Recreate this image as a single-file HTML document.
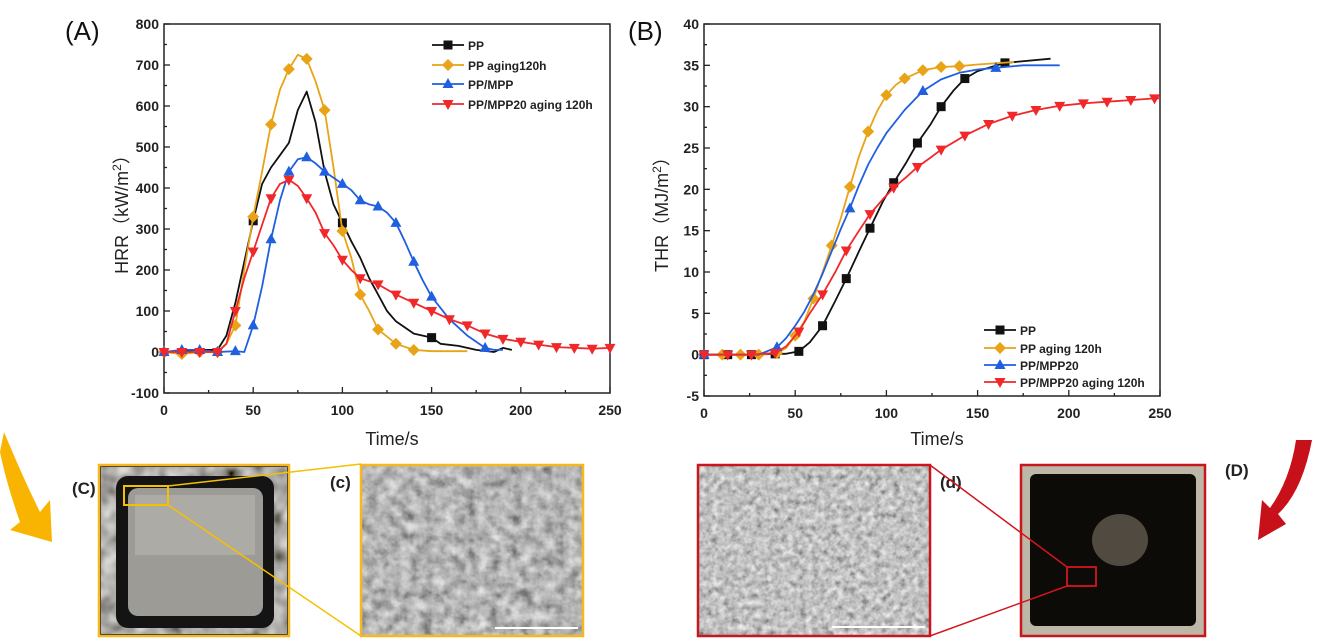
<!DOCTYPE html>
<html><head><meta charset="utf-8"><style>
html,body{margin:0;padding:0;background:#fff;}
svg{display:block;font-family:"Liberation Sans","Noto Sans CJK SC",sans-serif;}
.t{font-size:14px;font-weight:bold;fill:#222;}
</style></head><body>
<svg id="s" width="1319" height="640" viewBox="0 0 1319 640" xmlns="http://www.w3.org/2000/svg">
<defs>
<filter id="sem" x="0" y="0" width="100%" height="100%">
<feTurbulence type="fractalNoise" baseFrequency="0.09" numOctaves="3" seed="3"/>
<feColorMatrix type="matrix" values="0.45 0.45 0.45 0 -0.22  0.45 0.45 0.45 0 -0.22  0.45 0.45 0.45 0 -0.22  0 0 0 0 1"/>
</filter>
<filter id="sem2" x="0" y="0" width="100%" height="100%">
<feTurbulence type="fractalNoise" baseFrequency="0.16" numOctaves="3" seed="7"/>
<feColorMatrix type="matrix" values="0.5 0.5 0.5 0 -0.22  0.5 0.5 0.5 0 -0.22  0.5 0.5 0.5 0 -0.22  0 0 0 0 1"/>
</filter>
<filter id="foil" x="0" y="0" width="100%" height="100%">
<feTurbulence type="fractalNoise" baseFrequency="0.06" numOctaves="2" seed="2"/>
<feColorMatrix type="matrix" values="0.55 0.55 0.55 0 -0.4  0.55 0.55 0.55 0 -0.41  0.55 0.55 0.55 0 -0.43  0 0 0 0 1"/>
</filter>
</defs>
<g id="g"></g>

<text x="72" y="494" font-size="17" font-weight="bold" fill="#222">(C)</text>
<text x="330" y="488" font-size="17" font-weight="bold" fill="#222">(c)</text>
<text x="940" y="488" font-size="17" font-weight="bold" fill="#222">(d)</text>
<text x="1225" y="476" font-size="17" font-weight="bold" fill="#222">(D)</text>
<path d="M4,432 Q24,480 40,512 L50,500 L52,542 L10,530 L20,522 Q6,482 0,452 Z" fill="#f8b400"/>
<path d="M1312,440 Q1302,492 1278,514 L1286,524 L1258,540 L1262,500 L1270,508 Q1290,480 1296,440 Z" fill="#c8101a"/>

<rect x="99" y="465" width="190" height="171" fill="#222"/>
<rect x="101" y="467" width="186" height="167" filter="url(#foil)"/>
<rect x="116" y="476" width="158" height="152" rx="12" fill="#141414"/>
<rect x="128" y="488" width="135" height="128" rx="10" fill="#9d9b96"/>
<rect x="135" y="495" width="120" height="60" fill="#b8b6b1" opacity="0.6"/>
<rect x="99" y="465" width="190" height="171" fill="none" stroke="#f5b820" stroke-width="2.5"/>
<rect x="124" y="486" width="44" height="19" fill="none" stroke="#f5c000" stroke-width="2"/>
<line x1="168" y1="486" x2="361" y2="464" stroke="#f5c000" stroke-width="1.5"/>
<line x1="168" y1="505" x2="361" y2="636" stroke="#f5c000" stroke-width="1.5"/>
<rect x="361" y="465" width="222" height="171" filter="url(#sem)"/>
<rect x="361" y="465" width="222" height="171" fill="none" stroke="#f5b820" stroke-width="2.5"/>
<line x1="495" y1="628" x2="578" y2="628" stroke="#fff" stroke-width="2"/>

<rect x="698" y="465" width="232" height="171" filter="url(#sem2)"/>
<rect x="698" y="465" width="232" height="171" fill="none" stroke="#c8161d" stroke-width="2.5"/>
<line x1="832" y1="627" x2="925" y2="627" stroke="#fff" stroke-width="2"/>
<rect x="1021" y="465" width="184" height="171" fill="#bdb7a8"/>
<rect x="1030" y="474" width="166" height="152" rx="6" fill="#0d0b08"/>
<ellipse cx="1120" cy="540" rx="28" ry="26" fill="#6d6558" opacity="0.7"/>
<rect x="1021" y="465" width="184" height="171" fill="none" stroke="#c8161d" stroke-width="2.5"/>
<rect x="1067" y="567" width="29" height="19" fill="none" stroke="#d4141c" stroke-width="1.8"/>
<line x1="1067" y1="567" x2="930" y2="465" stroke="#d4141c" stroke-width="1.5"/>
<line x1="1067" y1="586" x2="930" y2="636" stroke="#d4141c" stroke-width="1.5"/>
</svg>
<script>
const NS="http://www.w3.org/2000/svg",G=document.getElementById('g');
function el(t,a,txt){const e=document.createElementNS(NS,t);for(const k in a)e.setAttribute(k,a[k]);if(txt!==undefined)e.textContent=txt;G.appendChild(e);return e;}
function marker(type,x,y,c){
 if(type=='s')el('rect',{x:x-4.5,y:y-4.5,width:9,height:9,fill:c});
 else if(type=='d')el('polygon',{points:`${x},${y-6} ${x+6},${y} ${x},${y+6} ${x-6},${y}`,fill:c});
 else if(type=='u')el('polygon',{points:`${x},${y-6} ${x+5.5},${y+4} ${x-5.5},${y+4}`,fill:c});
 else el('polygon',{points:`${x},${y+6} ${x+5.5},${y-4} ${x-5.5},${y-4}`,fill:c});
}
function panel(P){
 const X=v=>P.x0+(v-0)/250*(P.x1-P.x0), Y=v=>P.yT+(P.ymax-v)/(P.ymax-P.ymin)*(P.yB-P.yT);
 el('rect',{x:P.x0,y:P.yT,width:P.x1-P.x0,height:P.yB-P.yT,fill:'none',stroke:'#222','stroke-width':1.5});
 for(let v=0;v<=250;v+=25){const x=X(v);el('line',{x1:x,y1:P.yB,x2:x,y2:P.yB-(v%50?3:6),stroke:'#222','stroke-width':1.3});
  if(v%50==0)el('text',{x:x,y:P.yB+22,'text-anchor':'middle',class:'t'},v);}
 for(let v=P.ymin;v<=P.ymax;v+=P.st/2){const y=Y(v);const maj=Math.abs((v-P.ymin)%P.st)<1e-6;el('line',{x1:P.x0,y1:y,x2:P.x0+(maj?6:3),y2:y,stroke:'#222','stroke-width':1.3});
  if(maj)el('text',{x:P.x0-5,y:y+5,'text-anchor':'end',class:'t'},v);}
 el('text',{x:P.lbX,y:40,'font-size':26,fill:'#111'},P.lab);
 el('text',{x:(P.x0+P.x1)/2+5,y:445,'text-anchor':'middle','font-size':18,fill:'#222'},'Time/s');
 const yl=el('text',{transform:`translate(${P.ylx},210) rotate(-90)`,'text-anchor':'middle','font-size':18,fill:'#222'});
 yl.innerHTML=P.yl;
 P.series.forEach(s=>{
  const pts=s.d.map(p=>X(p[0]).toFixed(1)+','+Y(p[1]).toFixed(1)).join(' ');
  el('polyline',{points:pts,fill:'none',stroke:s.c,'stroke-width':1.8,'stroke-linejoin':'round'});
  s.m.forEach(t=>{let y;for(let i=0;i<s.d.length-1;i++){if(t>=s.d[i][0]&&t<=s.d[i+1][0]){const f=(t-s.d[i][0])/(s.d[i+1][0]-s.d[i][0]||1);y=s.d[i][1]+f*(s.d[i+1][1]-s.d[i][1]);break;}}
   if(y!==undefined)marker(s.t,X(t),Y(y),s.c);});
 });
 P.leg.forEach((l,i)=>{const y=P.legY[i],s=P.series[i];
  el('line',{x1:P.legX,y1:y,x2:P.legX+32,y2:y,stroke:s.c,'stroke-width':1.8});marker(s.t,P.legX+16,y,s.c);
  el('text',{x:P.legX+36,y:y+5,'font-size':P.lfs,'font-weight':'bold',fill:'#222'},l);});
}
const K='#111',O='#e8a317',B='#1f5fe0',R='#f0282a';
panel({x0:164,x1:610,yT:24,yB:393,ymin:-100,ymax:800,st:100,lab:'(A)',lbX:65,ylx:128,
 yl:'HRR（kW/m<tspan baseline-shift="super" font-size="12">2</tspan>）',
 legX:432,legY:[45,65,84,104],lfs:12,
 leg:['PP','PP aging120h','PP/MPP','PP/MPP20 aging 120h'],
 series:[
 {c:K,t:'s',m:[50,100,150],d:[[0,-12],[3,0],[20,5],[30,5],[35,40],[40,120],[45,220],[50,320],[55,410],[60,450],[65,480],[70,510],[75,590],[80,635],[85,560],[90,440],[95,360],[100,315],[105,270],[110,230],[115,180],[120,140],[125,100],[130,75],[140,45],[150,35],[155,20],[165,15],[175,5],[185,0],[190,10],[195,5]]},
 {c:O,t:'d',m:[0,10,20,30,40,50,60,70,80,90,100,110,120,130,140],d:[[0,0],[10,-5],[20,0],[30,0],[35,20],[40,65],[45,200],[50,330],[55,440],[60,555],[65,640],[70,690],[75,725],[80,715],[85,660],[90,590],[95,450],[100,295],[105,230],[110,140],[115,100],[120,55],[130,20],[140,5],[150,2],[170,2]]},
 {c:B,t:'u',m:[0,10,20,30,40,50,60,70,80,90,100,110,120,130,140,150,180],d:[[0,0],[10,5],[20,5],[30,0],[40,2],[45,0],[50,65],[55,160],[60,275],[65,370],[70,440],[75,470],[80,475],[85,460],[90,440],[95,425],[100,410],[105,395],[110,370],[115,360],[120,355],[125,340],[130,315],[135,270],[140,220],[145,175],[150,135],[160,80],[170,40],[180,10],[185,5],[190,5]]},
 {c:R,t:'v',m:[0,10,20,30,40,50,60,70,80,90,100,110,120,130,140,150,160,170,180,190,200,210,220,230,240,250],d:[[0,0],[10,0],[20,0],[30,0],[35,20],[40,100],[45,180],[50,245],[55,310],[60,375],[65,410],[70,420],[75,405],[80,375],[85,340],[90,290],[95,260],[100,225],[105,200],[110,180],[120,165],[130,140],[140,120],[150,100],[160,80],[170,65],[180,45],[190,32],[200,25],[210,18],[220,12],[230,10],[240,8],[250,10]]}
 ]});
panel({x0:704,x1:1160,yT:24,yB:396,ymin:-5,ymax:40,st:5,lab:'(B)',lbX:628,ylx:668,
 yl:'THR（MJ/m<tspan baseline-shift="super" font-size="12">2</tspan>）',
 legX:984,legY:[330,348,365,382],lfs:12,
 leg:['PP','PP aging 120h','PP/MPP20','PP/MPP20 aging 120h'],
 series:[
 {c:K,t:'s',m:[0,13,26,39,52,65,78,91,104,117,130,143,165],d:[[0,0],[13,0],[26,0],[39,0.1],[45,0.1],[52,0.4],[58,1.5],[65,3.5],[72,6.5],[78,9.2],[85,12.5],[91,15.3],[98,18.5],[104,20.8],[111,23.3],[117,25.6],[124,27.8],[130,30],[137,32],[143,33.4],[150,34.3],[165,35.3],[190,35.8]]},
 {c:O,t:'d',m:[10,20,30,40,50,60,70,80,90,100,110,120,130,140],d:[[0,0],[10,0],[20,0],[30,0],[40,0.2],[45,0.8],[50,2.3],[55,4],[60,6.8],[65,10],[70,13.2],[75,16.5],[80,20.3],[85,24],[90,27],[95,29.5],[100,31.4],[105,32.6],[110,33.4],[120,34.4],[130,34.8],[140,34.9],[150,35.1],[170,35.4]]},
 {c:B,t:'u',m:[0,40,80,120,160],d:[[0,0],[10,0],[20,0],[30,0],[40,0.9],[45,2],[50,3.5],[55,5.2],[60,7.3],[65,9.8],[70,12.5],[75,15.2],[80,17.7],[85,20.5],[90,23],[95,25],[100,26.8],[110,29.6],[120,31.9],[130,33.3],[140,34.1],[150,34.5],[160,34.7],[175,35],[195,35]]},
 {c:R,t:'v',m:[0,13,26,39,52,65,78,91,104,117,130,143,156,169,182,195,208,221,234,247],d:[[0,0],[13,0],[26,0],[39,0.2],[45,1],[52,2.8],[58,5],[65,7.3],[72,10],[78,12.6],[85,15],[91,17],[98,18.8],[104,20.2],[111,21.5],[117,22.7],[124,23.8],[130,24.8],[143,26.5],[156,27.9],[169,28.9],[182,29.6],[195,30.1],[208,30.4],[221,30.6],[234,30.8],[247,31],[250,31]]}
 ]});
</script>
</body></html>
